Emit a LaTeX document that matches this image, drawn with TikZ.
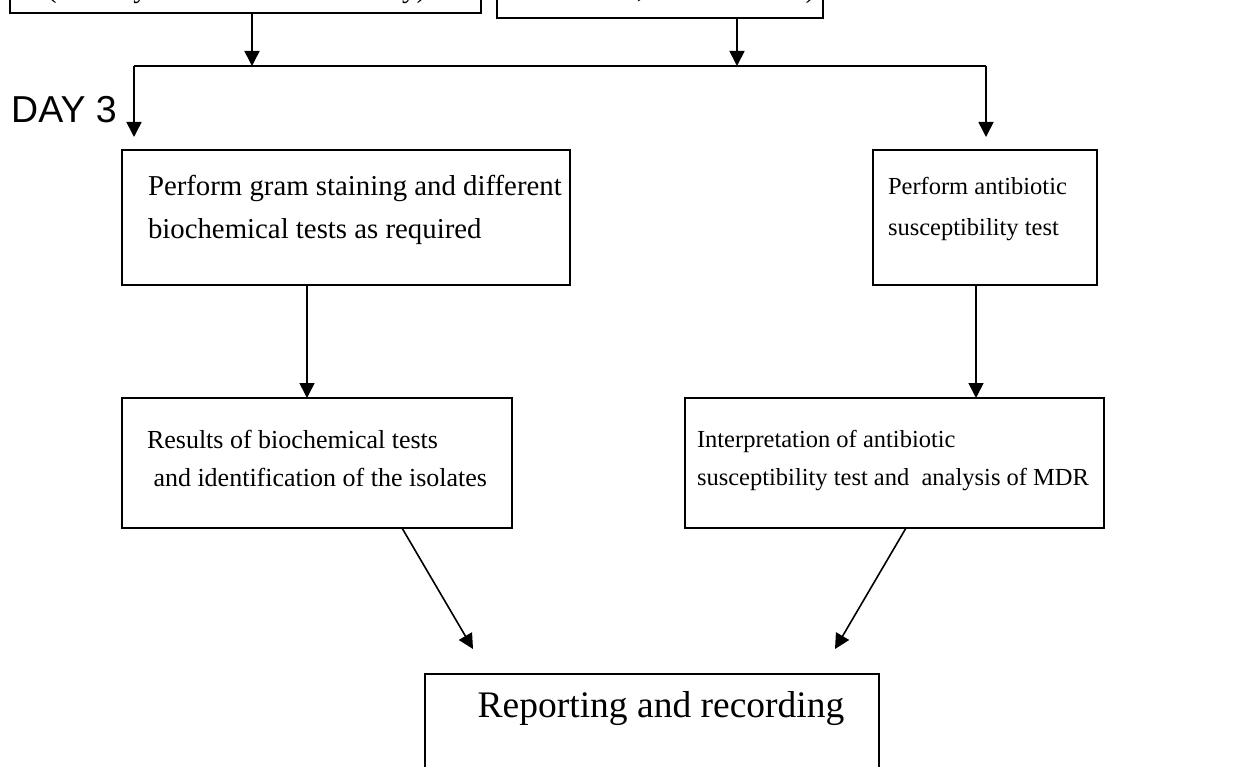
\documentclass[tikz,border=0pt]{standalone}
\usepackage{fontspec}
\setmainfont{Liberation Serif}
\newfontfamily\arialfont{Liberation Sans}
\usetikzlibrary{arrows.meta}
\tikzset{
  box/.style={draw, line width=1.6pt, inner sep=0pt, outer sep=0pt, anchor=north west},
  txt/.style={inner sep=0pt, outer sep=0pt, anchor=base west, font=\fontsize{28.8}{34}\selectfont},
  txtd/.style={txt, font=\fontsize{24.5}{30}\selectfont},
  txte/.style={txt, font=\fontsize{26}{31}\selectfont},
  bigtxt/.style={inner sep=0pt, outer sep=0pt, anchor=base, font=\fontsize{37.5}{44}\selectfont},
  arr/.style={line width=1.6pt, -{Triangle[width=15pt,length=15pt]}},
  ln/.style={line width=1.6pt}
}
\begin{document}
\begin{tikzpicture}[x=1pt,y=-1pt]
\useasboundingbox (0,0) rectangle (1246,767);
\clip (0,0) rectangle (1246,767);
% top boxes (cut off by the page edge)
\node[box, minimum width=471pt, minimum height=90pt] (a) at (10,-77) {};
\node[txt] (at) at (47,-2) {(Identify colonies from first day)};
\node[box, minimum width=326pt, minimum height=90pt] (b) at (497,-72) {};
\node[txt] (bt) at (512,-2) {Subculture, then incubate)};
% junction line
\coordinate (ja) at (252,66);
\coordinate (jb) at (737,66);
\coordinate (hl) at (134,66);
\coordinate (hr) at (986,66);
\coordinate (dl) at (134,137);
\coordinate (dr) at (986,137);
\draw[arr] (a.south -| ja) -- (ja);
\draw[arr] (b.south -| jb) -- (jb);
\draw[ln] (hl) -- (hr);
\draw[arr] (hl) -- (dl);
\draw[arr] (hr) -- (dr);
\node[inner sep=0pt, anchor=base west, font=\arialfont\fontsize{37.5}{42}\selectfont] (day) at (11,123) {DAY 3};
% second row
\node[box, minimum width=448pt, minimum height=135pt] (c) at (122,150) {};
\node[txt] (c1) at (148,196) {Perform gram staining and different};
\node[txt] (c2) at (148,238) {biochemical tests as required};
\node[box, minimum width=224pt, minimum height=135pt] (d) at (873,150) {};
\node[txtd] (d1) at (888,195) {Perform antibiotic};
\node[txtd] (d2) at (888,236) {susceptibility test};
% third row
\node[box, minimum width=390pt, minimum height=130pt] (e) at (122,398) {};
\node[txte] (e1) at (147,448) {Results of biochemical tests};
\node[txte] (e2) at (147,486) {\ and identification of the isolates};
\node[box, minimum width=419pt, minimum height=130pt] (f) at (685,398) {};
\node[txtd] (f1) at (697,447) {Interpretation of antibiotic};
\node[txtd] (f2) at (697,485) {susceptibility test and \ analysis of MDR};
\coordinate (xc) at (307,0);
\coordinate (xd) at (976,0);
\draw[arr] (c.south -| xc) -- (e.north -| xc);
\draw[arr] (d.south -| xd) -- (f.north -| xd);
% bottom box
\node[box, minimum width=454pt, minimum height=140pt] (g) at (425,674) {};
\node[bigtxt] (g1) at (661,717) {Reporting and recording};
\coordinate (xe) at (402,0);
\coordinate (xf) at (906,0);
\coordinate (gl) at (473,649);
\coordinate (gr) at (835,649);
\draw[arr] (e.south -| xe) -- (gl);
\draw[arr] (f.south -| xf) -- (gr);
\end{tikzpicture}
\end{document}
